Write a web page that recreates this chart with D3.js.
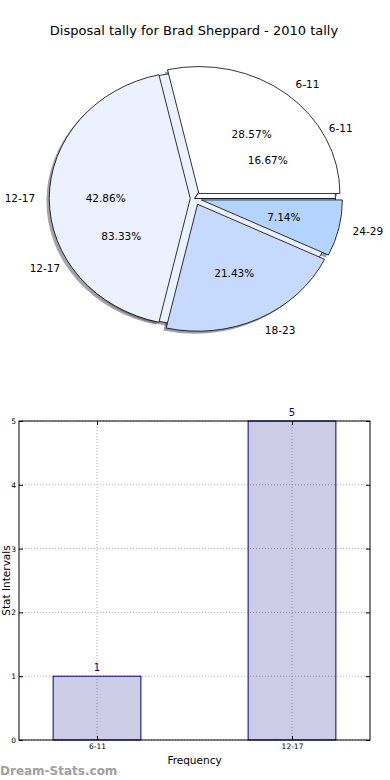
<!DOCTYPE html>
<meta charset="utf-8">
<script src="https://d3js.org/d3.v7.min.js"></script>
<style>
  body { margin: 0; background: #fff; }
  text { font-family: "DejaVu Sans", sans-serif; }
</style>
<div id="my_dataviz"></div>
<script>

  // pie data (two pies drawn on top of each other)
  var pieLabels = ["6-11", "12-17", "18-23", "24-29"];
  var pieValues = [4, 6, 3, 1];
  var innerLabels = ["6-11", "12-17"];
  var innerValues = [1, 5];

  // bar data
  var barCategories = ["6-11", "12-17"];
  var barValues = [1, 5];
  var yTicks = [0, 1, 2, 3, 4, 5];

  var W = 390, H = 780;

  var svg = d3.select("#my_dataviz")
    .append("svg")
      .attr("width", W)
      .attr("height", H);

  svg.append("text")
    .attr("x", 194)
    .attr("y", 35)
    .attr("text-anchor", "middle")
    .style("font-size", "13px")
    .text("Disposal tally for Brad Sheppard - 2010 tally");

  // ---------- pie ----------
  var cx = 194.5, cy = 198.5, rx = 141, ry = 127, R = 100;

  var pie = d3.pie()
      .sort(null)
      .startAngle(Math.PI / 2)          // start at 3 o'clock
      .endAngle(Math.PI / 2 - 2 * Math.PI); // counter clockwise

  var arc = d3.arc().innerRadius(0).outerRadius(R);

  function makeSlices(labels, values, explode) {
    return pie(values).map(function(d, i) {
      var mid = (d.startAngle + d.endAngle) / 2;
      d.label = labels[i];
      d.ux = Math.sin(mid);
      d.uy = -Math.cos(mid);
      d.explode = explode[i];
      d.pct = d3.format(".2f")(100 * values[i] / d3.sum(values)) + "%";
      return d;
    });
  }

  var inner = makeSlices(innerLabels, innerValues, [0, 0]);
  var outer = makeSlices(pieLabels, pieValues, [0.05, 0.03, 0.05, 0.05]);
  var innerColors = ["#ffffff", "#ebf1fe"];
  var outerColors = ["#ffffff", "#ebf1fe", "#c6d9fe", "#b3d4fe"];

  var pg = svg.append("g")
    .attr("transform", "translate(" + cx + "," + cy + ") scale(" + rx / R + "," + ry / R + ")");

  function wedgeT(d, dx, dy) {
    return "translate(" + (d.ux * d.explode * R + dx) + "," + (d.uy * d.explode * R + dy) + ")";
  }

  // shadows first (below every wedge)
  [[inner, innerColors], [outer, outerColors]].forEach(function(p) {
    pg.append("g").selectAll("path")
      .data(p[0])
      .enter().append("path")
        .attr("d", arc)
        .attr("transform", function(d) { return wedgeT(d, -2, 2); })
        .style("fill", function(d, i) {
          var c = d3.rgb(p[1][i]);
          return d3.rgb(c.r * 0.3, c.g * 0.3, c.b * 0.3);
        })
        .style("fill-opacity", 0.5);
  });

  [[inner, innerColors], [outer, outerColors]].forEach(function(p) {
    pg.append("g").selectAll("path")
      .data(p[0])
      .enter().append("path")
        .attr("d", arc)
        .attr("transform", function(d) { return wedgeT(d, 0, 0); })
        .style("fill", function(d, i) { return p[1][i]; })
        .style("stroke", "#000")
        .style("stroke-width", 0.8)
        .attr("vector-effect", "non-scaling-stroke");
  });

  // labels (outside at 1.1, percentages at 0.6)
  [inner, outer].forEach(function(slices) {
    slices.forEach(function(d) {
      var ox = cx + d.ux * d.explode * rx, oy = cy + d.uy * d.explode * ry;
      svg.append("text")
        .attr("x", ox + d.ux * 1.1 * rx)
        .attr("y", oy + d.uy * 1.1 * ry)
        .attr("dy", "0.35em")
        .attr("text-anchor", d.ux > 0 ? "start" : "end")
        .style("font-size", "10.5px")
        .text(d.label);
      svg.append("text")
        .attr("x", ox + d.ux * 0.6 * rx)
        .attr("y", oy + d.uy * 0.6 * ry)
        .attr("dy", "0.35em")
        .attr("text-anchor", "middle")
        .style("font-size", "10.5px")
        .text(d.pct);
    });
  });

  // ---------- bar chart ----------
  var bx0 = 19, bx1 = 370, by0 = 421, by1 = 740;

  var x = d3.scaleLinear()
      .domain([-0.4, barCategories.length - 0.6])
      .range([bx0, bx1]);
  var y = d3.scaleLinear()
      .domain([0, 5])
      .range([by1, by0]);
  var barW = 0.45;

  var bg = svg.append("g");

  // grid
  bg.append("g").selectAll("line.h")
    .data(yTicks)
    .enter().append("line")
      .attr("x1", bx0).attr("x2", bx1)
      .attr("y1", function(d) { return y(d); })
      .attr("y2", function(d) { return y(d); })
      .style("stroke", "#b0b0b0")
      .style("stroke-dasharray", "1,2");
  bg.append("g").selectAll("line.v")
    .data(barCategories)
    .enter().append("line")
      .attr("x1", function(d, i) { return x(i); })
      .attr("x2", function(d, i) { return x(i); })
      .attr("y1", by0).attr("y2", by1)
      .style("stroke", "#b0b0b0")
      .style("stroke-dasharray", "1,2");

  // bars
  bg.selectAll("rect")
    .data(barValues)
    .enter().append("rect")
      .attr("x", function(d, i) { return x(i - barW / 2); })
      .attr("y", function(d) { return y(d); })
      .attr("width", function(d, i) { return x(i + barW / 2) - x(i - barW / 2); })
      .attr("height", function(d) { return by1 - y(d); })
      .style("fill", "#000080")
      .style("fill-opacity", 0.2)
      .style("stroke", "#000080")
      .style("stroke-width", 1);

  bg.selectAll("text.val")
    .data(barValues)
    .enter().append("text")
      .attr("x", function(d, i) { return x(i); })
      .attr("y", function(d) { return y(d) - 5; })
      .attr("text-anchor", "middle")
      .style("font-size", "10px")
      .style("fill", "#000080")
      .text(function(d) { return d; });

  // axes (ticks inside, like the original)
  var yAxisL = d3.axisLeft(y).tickValues(yTicks).tickFormat(d3.format("d"))
      .tickSizeInner(-4).tickSizeOuter(0).tickPadding(3);
  var yAxisR = d3.axisRight(y).tickValues(yTicks).tickSizeInner(-4).tickSizeOuter(0).tickFormat("");
  var xAxisB = d3.axisBottom(x).tickValues(d3.range(barCategories.length))
      .tickFormat(function(i) { return barCategories[i]; })
      .tickSizeInner(-4).tickSizeOuter(0).tickPadding(4);
  var xAxisT = d3.axisTop(x).tickValues(d3.range(barCategories.length))
      .tickFormat("").tickSizeInner(-4).tickSizeOuter(0);

  [[yAxisL, "translate(" + bx0 + ",0)"], [yAxisR, "translate(" + bx1 + ",0)"],
   [xAxisB, "translate(0," + by1 + ")"], [xAxisT, "translate(0," + by0 + ")"]].forEach(function(a) {
    var g = bg.append("g").attr("transform", a[1]).call(a[0]);
    g.select(".domain").remove();
    g.selectAll("text").style("font-size", "7.5px").style("font-family", "DejaVu Sans, sans-serif");
    g.selectAll("line").style("stroke", "#000");
  });

  bg.append("rect")
    .attr("x", bx0).attr("y", by0)
    .attr("width", bx1 - bx0).attr("height", by1 - by0)
    .style("fill", "none")
    .style("stroke", "#000")
    .style("stroke-width", 1);

  svg.append("text")
    .attr("x", (bx0 + bx1) / 2)
    .attr("y", 764)
    .attr("text-anchor", "middle")
    .style("font-size", "10.5px")
    .text("Frequency");

  svg.append("text")
    .attr("transform", "translate(9.5," + (by0 + by1) / 2 + ") rotate(-90)")
    .attr("text-anchor", "middle")
    .style("font-size", "10.5px")
    .text("Stat Intervals");

  svg.append("text")
    .attr("x", 0)
    .attr("y", 775)
    .style("font-size", "12px")
    .style("font-weight", "bold")
    .style("fill", "#a0a0a0")
    .text("Dream-Stats.com");

</script>
